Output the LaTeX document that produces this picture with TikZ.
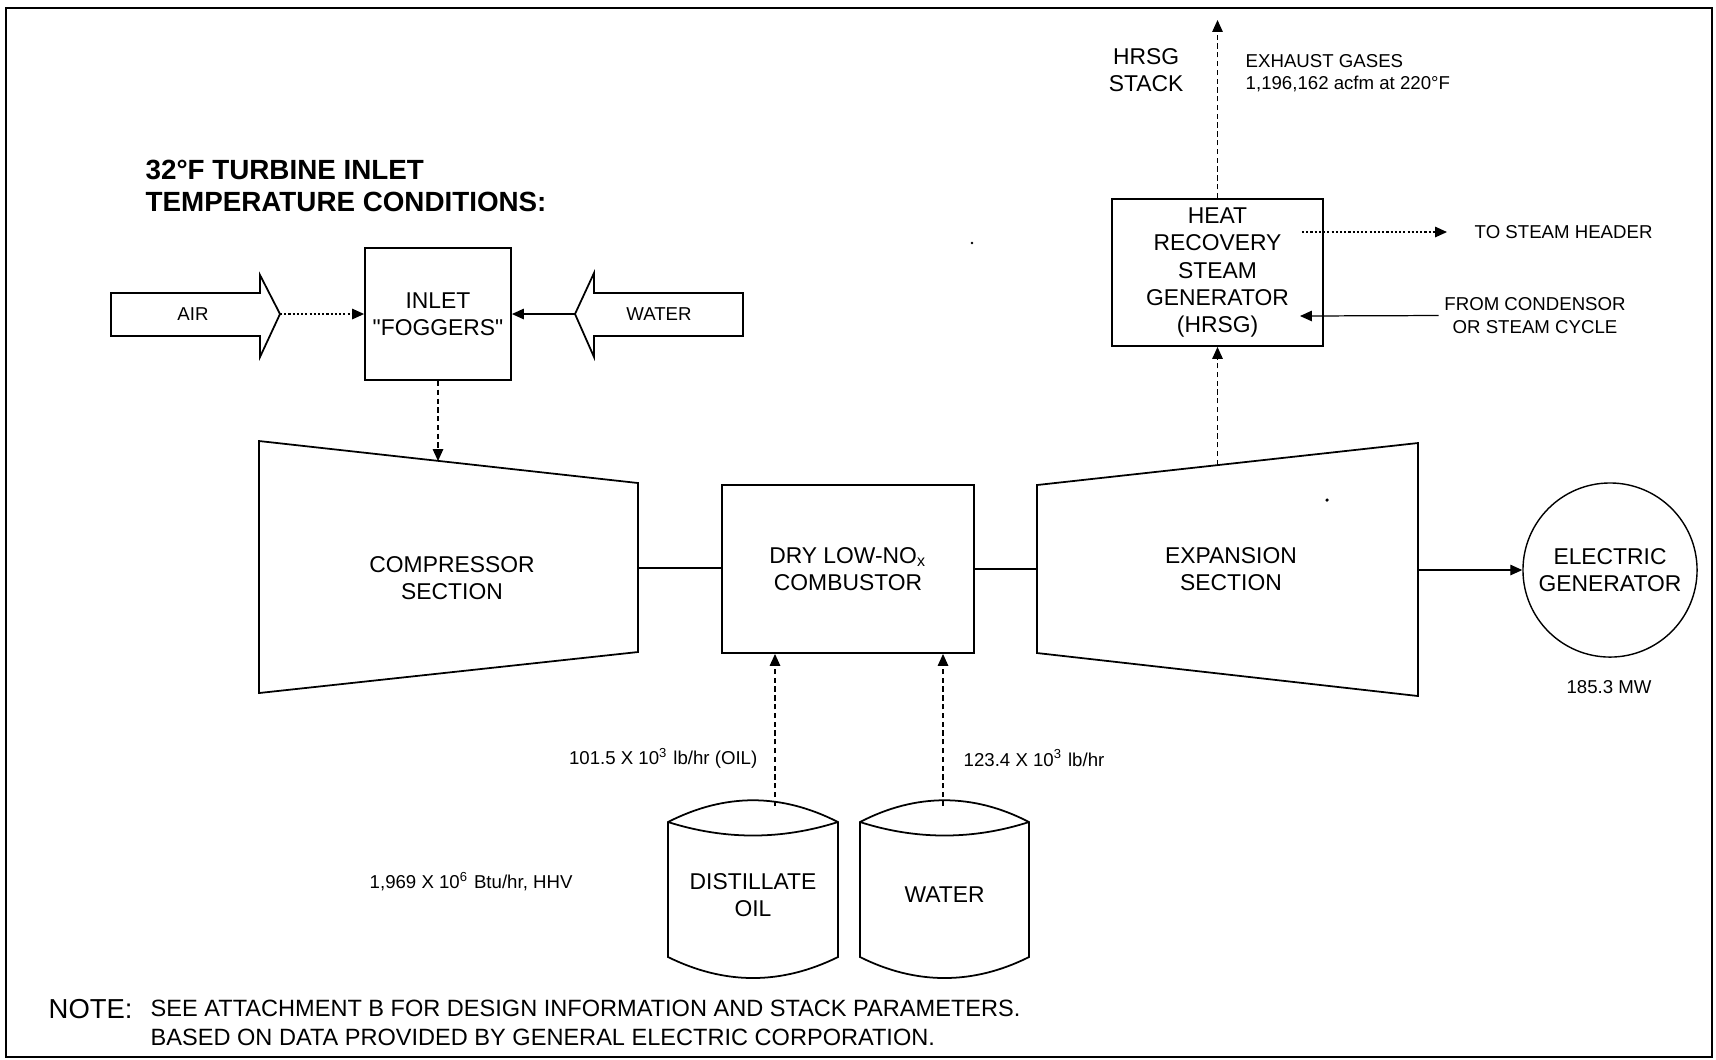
\documentclass[tikz,border=0pt]{standalone}
\usepackage{fontspec}
\setmainfont{Liberation Sans}
\usetikzlibrary{arrows.meta}
\newcommand{\lblsmall}{\fontsize{5.3}{6.4}\selectfont}
\newcommand{\lblbig}{\fontsize{6.5}{7.7}\selectfont}
\newcommand{\lbltitle}{\fontsize{7.9}{9.2}\selectfont\bfseries}
\newcommand{\lblnote}{\fontsize{6.7}{8.1}\selectfont}

\begin{document}
\begin{tikzpicture}[x=0.01cm, y=-0.01cm,
		box/.style={draw, line width=0.5pt, align=center, font=\lblbig, inner sep=0pt},
		big/.style={align=center, font=\lblbig, inner sep=0pt},
		lbl/.style={align=center, font=\lblsmall, inner sep=0pt},
		part/.style={line width=0.5pt, line join=miter},
		flow/.style={line width=0.35pt, -{Triangle[length=3.4pt, width=3pt]}},
		dashflow/.style={flow, dash pattern=on 1.5pt off 1pt},
		dotflow/.style={flow, dash pattern=on 0.6pt off 0.6pt}]
	
	\useasboundingbox (0,0) rectangle (1716,1059);
	\draw[line width=0.8pt] (6,8) rectangle (1712,1057);
	
	\node[anchor=west, align=left, font=\lbltitle, inner sep=0pt] (title) at (145,186)
	{32°F TURBINE INLET\\TEMPERATURE CONDITIONS:};
	
	\draw[part] (111,293) -- (260,293) -- (260,275) -- (280,314)
	-- (260,357) -- (260,336) -- (111,336) -- cycle;
	\coordinate (airtip) at (280,314);
	\node[lbl] (air) at (193,314) {AIR};
	
	\draw[part] (743,293) -- (594,293) -- (594,273) -- (575,314)
	-- (594,357) -- (594,336) -- (743,336) -- cycle;
	\coordinate (watertip) at (575,314);
	\node[lbl] (water) at (659,314) {WATER};
	
	\node[box, minimum width=1.46cm, minimum height=1.32cm] (inlet) at (438,314)
	{INLET\\\textquotedbl FOGGERS\textquotedbl};
	\draw[dotflow] (airtip) -- (inlet.west);
	\draw[flow] (watertip) -- (inlet.east);
	
	\draw[part] (259,441) -- (638,483) -- (638,652) -- (259,693) -- cycle;
	\node[big] (comp) at (452,578) {COMPRESSOR\\SECTION};
	\coordinate (cin) at (438,461);
	\coordinate (cout) at (638,568);
	\draw[dashflow] (inlet.south) -- (cin);
	
	\node[box, minimum width=2.52cm, minimum height=1.68cm] (comb) at (848,569)
	{DRY LOW-NO\textsubscript{x}\\COMBUSTOR};
	\draw[line width=0.45pt] (cout) -- (cout -| comb.west);
	
	\draw[part] (1037,485) -- (1418,443) -- (1418,696) -- (1037,653) -- cycle;
	\node[big] (exp) at (1231,569) {EXPANSION\\SECTION};
	\coordinate (ein) at (1037,569);
	\coordinate (eout) at (1418,570);
	\coordinate (etop) at (1217.5,465);
	\draw[line width=0.35pt] (comb.east) -- (ein);
	
	\node[box, circle, line width=0.4pt, minimum size=1.74cm] (gen) at (1610,570)
	{ELECTRIC\\GENERATOR};
	\node[lbl] (mw) at (1609,687) {185.3 MW};
	\draw[flow] (eout) -- (gen.west);
	
	\node[box, minimum width=2.11cm, minimum height=1.47cm] (hrsg) at (1217.5,272.5)
	{HEAT\\RECOVERY\\STEAM\\GENERATOR\\(HRSG)};
	\draw[dashflow] (etop) -- (hrsg.south);
	
	\coordinate (stack) at (1217.5,20);
	\draw[dashflow] (hrsg.north) -- (stack);
	\node[big] (hrsgstack) at (1146,70) {HRSG\\STACK};
	\node[lbl, anchor=west, align=left] (exhaust) at (1245,73)
	{EXHAUST GASES\\1,196,162 acfm at 220°F};
	
	\coordinate (hsout) at (1302,232);
	\node[lbl, anchor=west] (header) at (1474,232) {TO STEAM HEADER};
	\draw[dotflow] (hsout) -- ([xshift=-0.27cm]header.west);
	
	\coordinate (hsin) at (1300,316);
	\node[lbl] (cond) at (1535,315.5) {FROM CONDENSOR\\OR STEAM CYCLE};
	\draw[flow] ([xshift=-0.05cm]cond.west) -- (hsin);
	
	\draw[part] (668,822) .. controls (725,793) and (781,793) .. (838,822)
	-- (838,957) .. controls (781,985) and (725,985) .. (668,957) -- cycle;
	\draw[part] (668,822) .. controls (725,840) and (781,840) .. (838,822);
	\node[big] (oil) at (753,895) {DISTILLATE\\OIL};
	\coordinate (oiltop) at (775,806);
	
	\draw[part] (860,822) .. controls (916,793) and (973,793) .. (1029,822)
	-- (1029,957) .. controls (973,985) and (916,985) .. (860,957) -- cycle;
	\draw[part] (860,822) .. controls (916,840) and (973,840) .. (1029,822);
	\node[big] (wtank) at (944.5,895) {WATER};
	\coordinate (wattop) at (943,806);
	
	\draw[dashflow] (oiltop) -- (oiltop |- comb.south);
	\draw[dashflow] (wattop) -- (wattop |- comb.south);
	
	\node[lbl, anchor=east] (oilflow) at (758,758) {101.5 X 10\textsuperscript{3} lb/hr (OIL)};
	\node[lbl, anchor=west] (watflow) at (963,758) {123.4 X 10\textsuperscript{3} lb/hr};
	\node[lbl, anchor=west] (heat) at (369,882) {1,969 X 10\textsuperscript{6} Btu/hr, HHV};
	
	\node[anchor=west, inner sep=0pt, font=\fontsize{7.8}{8}\selectfont] (note) at (48,1009) {NOTE:};
	\node[anchor=west, align=left, inner sep=0pt, font=\lblnote] (notetxt) at (150,1023)
	{SEE ATTACHMENT B FOR DESIGN INFORMATION AND STACK PARAMETERS.\\
		BASED ON DATA PROVIDED BY GENERAL ELECTRIC CORPORATION.};
	
	\fill (972,243) circle (0.4pt);
	\fill (1327,500) circle (0.5pt);
	
\end{tikzpicture}
\end{document}
